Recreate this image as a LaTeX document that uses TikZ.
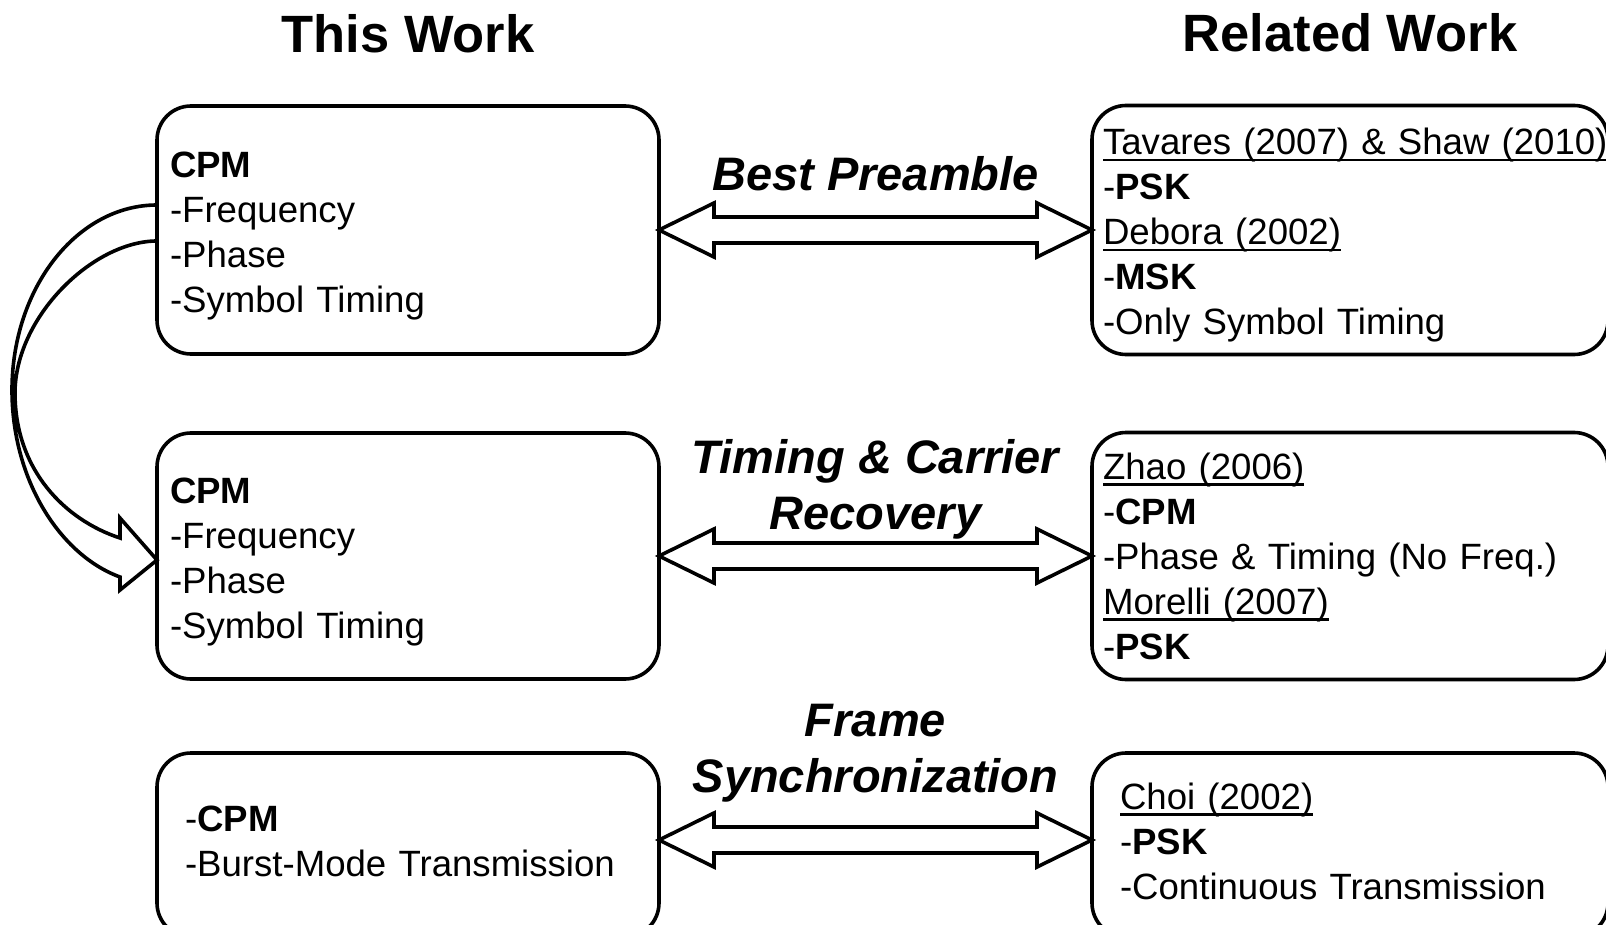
\documentclass[tikz,border=0pt]{standalone}
\usepackage{fontspec}
\setmainfont{Liberation Sans}
\usetikzlibrary{calc,positioning}

% underlined author/year line
\newcommand{\authyr}[1]{\leavevmode\setbox0\hbox{#1}\rlap{\rule[-6.5pt]{\wd0}{2.4pt}}\box0}
\newcommand{\topstrut}{\rule{0pt}{37pt}}
\newcommand{\botstrut}{\rule[-8.5pt]{0pt}{1pt}}

\begin{document}
\begin{tikzpicture}[x=1pt, y=-1pt, node distance=79pt]
    \tikzstyle{panel}=[draw, line width=3.6pt, outer sep=0pt, rounded corners=34pt, align=left, inner ysep=0pt, inner xsep=13pt, font=\fontsize{36.6pt}{45pt}\selectfont]
    \tikzstyle{hdr}=[inner sep=0pt, font=\fontsize{52.5pt}{60pt}\selectfont\bfseries]
    \tikzstyle{lbl}=[inner sep=0pt, align=center, font=\fontsize{47pt}{56pt}\selectfont\bfseries\itshape]
    \tikzstyle{hollow}=[draw, line width=3.6pt, line join=miter]

    \useasboundingbox (0,0) rectangle (1606,925);
    \clip (0,0) rectangle (1606,925);

    % this work
    \node[panel, text width=476pt, minimum height=248pt] (tl) at (408,230) {\topstrut\textbf{CPM}\\-Frequency\\-Phase\\-Symbol Timing};
    \node[panel, text width=476pt, minimum height=246pt, below=of tl] (ml) {\topstrut\textbf{CPM}\\-Frequency\\-Phase\\-Symbol Timing};
    \node[panel, inner xsep=28pt, text width=446pt, minimum height=184pt, below=74pt of ml] (bl) {-\textbf{CPM}\\-Burst-Mode Transmission\botstrut};

    % related work
    \node[panel, inner xsep=11pt, text width=494pt, minimum height=249pt, right=433pt of tl] (tr) {\topstrut\authyr{Tavares (2007) \& Shaw (2010)}\\-\textbf{PSK}\\\authyr{Debora (2002)}\\-\textbf{MSK}\\-Only Symbol Timing};
    \node[panel, inner xsep=11pt, text width=494pt, minimum height=247pt, right=433pt of ml] (mr) {\authyr{Zhao (2006)}\\-\textbf{CPM}\\-Phase \& Timing (No Freq.)\\\authyr{Morelli (2007)}\\-\textbf{PSK}};
    \node[panel, inner xsep=28pt, text width=460pt, minimum height=184pt, right=433pt of bl] (br) {\authyr{Choi (2002)}\\-\textbf{PSK}\\-Continuous Transmission\botstrut};

    \node[hdr, above=53pt of tl] (thiswork) {This Work};
    \node[hdr, above=53pt of tr] (relwork) {Related Work};

    % double arrows between the columns
    \foreach \a/\b/\s in {tl/tr/0pt, ml/mr/0pt, bl/br/5pt} {
        \coordinate (p) at ([yshift=\s]\a.east);
        \coordinate (q) at (p -| \b.west);
        \draw[hollow] (p) -- ++(55,-27) -- ++(0,14) -- ($(q)+(-55,-13)$) -- ++(0,-14) -- (q)
            -- ++(-55,27) -- ++(0,-14) -- ($(p)+(55,13)$) -- ++(0,14) -- cycle;
    }

    \node[lbl] (bestpre) at ($(tl.east)!.5!(tr.west)+(0,-56)$) {Best Preamble};
    \node[lbl] (timrec) at ($(ml.east)!.5!(mr.west)+(0,-67)$) {Timing \& Carrier\\Recovery};
    \node[lbl] (framesync) at ($(bl.east)!.5!(br.west)+(0,-92)$) {Frame\\Synchronization};

    % curved arrow from top to middle box
    \draw[hollow] ($(tl.west)+(0,-25)$) .. controls +(-80,0) and +(0,-102) .. ($(tl.west)+(-145,160)$)
        .. controls +(0,90) and +(-60,-22) .. ($(ml.west)+(-37,21)$) -- ++(0,13) -- ($(ml.west)+(0,4)$)
        -- ($(ml.west)+(-37,-38)$) -- ++(0,20)
        .. controls +(-55,-18) and +(0,77) .. ($(tl.west)+(-142,163)$)
        .. controls +(0,-76) and +(-64,0) .. ($(tl.west)+(0,11)$);
\end{tikzpicture}
\end{document}
